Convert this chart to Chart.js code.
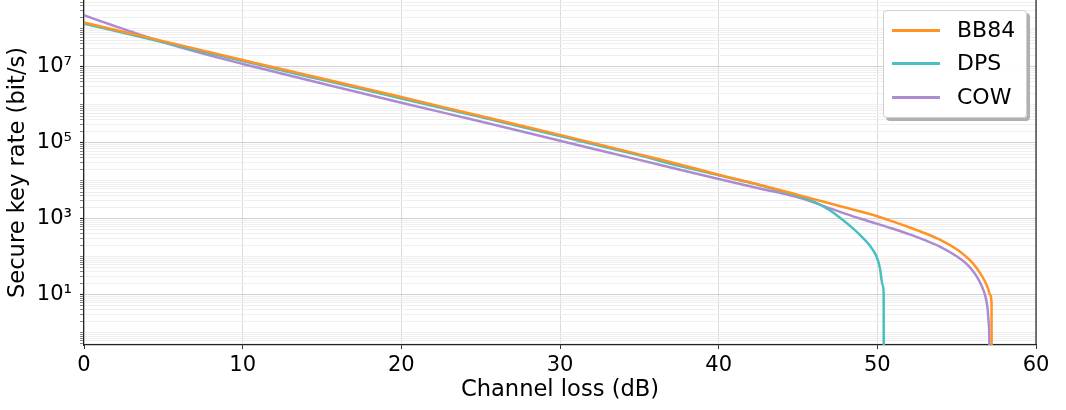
<!DOCTYPE html>
<html>
<head>
<meta charset="utf-8">
<script src="https://cdn.jsdelivr.net/npm/chart.js@4/dist/chart.umd.min.js"></script>
<style>
  html, body { margin: 0; padding: 0; background: #fff; }
  #wrap { position: relative; width: 1066px; height: 410px; }
  #legend {
    position: absolute; left: 883px; top: 10px; width: 142px; height: 106px;
    border: 1px solid #cfcfcf; border-radius: 4px; background: rgba(255,255,255,0.95);
    box-shadow: 3px 3px 0 #b0b0b0; font-family: "DejaVu Sans", sans-serif; font-size: 22px; color: #000;
  }
  .row { position: absolute; left: 0; height: 26px; }
  .swatch { position: absolute; left: 8px; top: 12px; width: 48px; height: 2.5px; }
  .lab { position: absolute; left: 73px; top: 0; line-height: 26px; white-space: nowrap; }
</style>
</head>
<body>
<div id="wrap">
  <canvas id="c" width="1066" height="410"></canvas>
  <div id="legend"></div>
</div>
<script>
// ---- data ----
const lossBB84 = [0, 5, 10, 12.5, 15, 20, 25, 30, 35, 37.5, 40, 42.5, 45, 47.5, 50, 51, 52, 53, 54, 55, 55.5, 56, 56.5, 56.8, 57.0, 57.1, 57.2, 57.21];
const rateBB84 = [1.45e8, 4.7e7, 1.5e7, 8.5e6, 4.9e6, 1.58e6, 5.0e5, 1.6e5, 4.9e4, 2.7e4, 1.42e4, 7.9e3, 4.2e3, 2.2e3, 1.15e3, 830, 590, 410, 270, 155, 107, 68, 35.5, 21.4, 13.5, 9.8, 5.8, 1e-3];

const lossDPS = [0, 5, 10, 12.5, 15, 20, 25, 30, 35, 37.5, 40, 42.5, 45, 46, 47, 47.65, 48.3, 48.9, 49.5, 49.95, 50.17, 50.33, 50.4, 50.41];
const rateDPS = [1.35e8, 4.4e7, 1.41e7, 7.9e6, 4.5e6, 1.45e6, 4.7e5, 1.48e5, 4.6e4, 2.45e4, 1.38e4, 7.8e3, 3.9e3, 2.8e3, 1.66e3, 1.05e3, 630, 372, 200, 100, 48, 17.8, 11, 1e-3];

const lossCOW = [0, 1, 2, 3, 4, 5, 7.5, 10, 12.5, 15, 20, 25, 30, 35, 37.5, 40, 42.5, 45, 47.65, 48.9, 50, 51, 52, 53, 54, 55, 55.5, 56, 56.4, 56.7, 56.85, 56.95, 57.02, 57.06, 57.08];
const rateCOW = [2.25e8, 1.6e8, 1.15e8, 8.3e7, 6.0e7, 4.4e7, 2.2e7, 1.18e7, 6.5e6, 3.6e6, 1.12e6, 3.6e5, 1.12e5, 3.5e4, 1.95e4, 1.1e4, 6.3e3, 3.6e3, 1.5e3, 1.0e3, 725, 537, 389, 269, 178, 102, 71, 43, 24, 12.6, 7.6, 4.2, 1.8, 0.5, 1e-3];

const seriesNames = ["BB84", "DPS", "COW"];
const seriesColors = ["#ff9326", "#4bbfbf", "#ad8bd0"];
const xTickValues = [0, 10, 20, 30, 40, 50, 60];
const yTickLabels = { 1: "10\u00B9", 3: "10\u00B3", 5: "10\u2075", 7: "10\u2077" };

const yMin = Math.pow(10, -0.33);
const yMax = Math.pow(10, 8.755);

function pts(xs, ys) { return xs.map((x, i) => ({ x: x, y: ys[i] })); }
const allData = [pts(lossBB84, rateBB84), pts(lossDPS, rateDPS), pts(lossCOW, rateCOW)];

const TICKFONT = { family: "'DejaVu Sans', sans-serif", size: 21 };
const TITLEFONT = { family: "'DejaVu Sans', sans-serif", size: 22.6 };

function decadeOf(v) { return Math.round(Math.log10(v) * 1000) / 1000; }

const frame = {
  id: 'frame',
  afterDraw(chart) {
    const { ctx, chartArea } = chart;
    ctx.save();
    ctx.strokeStyle = '#222';
    ctx.lineWidth = 1.2;
    ctx.beginPath();
    ctx.moveTo(chartArea.right, chartArea.top);
    ctx.lineTo(chartArea.right, chartArea.bottom);
    ctx.stroke();
    ctx.restore();
  }
};

const chart = new Chart(document.getElementById('c'), {
  type: 'line',
  data: {
    datasets: seriesNames.map((n, i) => ({
      label: n,
      data: allData[i],
      borderColor: seriesColors[i],
      backgroundColor: seriesColors[i],
      borderWidth: 2.5,
      pointRadius: 0,
      cubicInterpolationMode: 'monotone',
      fill: false
    }))
  },
  options: {
    responsive: false,
    animation: false,
    devicePixelRatio: 1,
    layout: { padding: { top: 0, right: 30, bottom: 0, left: 0 } },
    plugins: { legend: { display: false }, tooltip: { enabled: false } },
    scales: {
      x: {
        type: 'linear', min: 0, max: 60,
        afterBuildTicks(scale) { scale.ticks = xTickValues.map(v => ({ value: v })); },
        afterFit(scale) { scale.height = 65; scale.paddingLeft = 0; scale.paddingRight = 0; },
        ticks: { font: TICKFONT, color: '#000', padding: 4, maxRotation: 0, autoSkip: false },
        grid: { color: '#dadada', lineWidth: 1, tickLength: 4, tickColor: '#333', drawOnChartArea: true },
        border: { color: '#222', width: 1.2 },
        title: { display: true, text: 'Channel loss (dB)', font: TITLEFONT, color: '#000', padding: { top: 0, bottom: 6 } }
      },
      y: {
        type: 'logarithmic', min: yMin, max: yMax,
        afterBuildTicks(scale) {
          const t = [];
          for (let e = -1; e <= 8; e++) {
            for (let m = 1; m <= 9; m++) {
              const v = m * Math.pow(10, e);
              if (v >= yMin && v <= yMax) t.push({ value: v });
            }
          }
          scale.ticks = t;
        },
        afterFit(scale) { scale.width = 84; scale.paddingTop = 0; scale.paddingBottom = 0; },
        ticks: {
          font: TICKFONT, color: '#000', padding: 8, autoSkip: false,
          callback(v) {
            const d = decadeOf(v);
            if (Number.isInteger(d) && yTickLabels[d]) return yTickLabels[d];
            return '';
          }
        },
        grid: {
          tickLength: 4,
          color(ctx) {
            const v = ctx.tick && ctx.tick.value;
            if (!v) return '#f0f0f0';
            const d = decadeOf(v);
            if (Number.isInteger(d) && d % 2 !== 0) return '#d0d0d0';
            return '#efefef';
          },
          tickColor(ctx) {
            const v = ctx.tick && ctx.tick.value;
            const d = v ? decadeOf(v) : 0.5;
            if (Number.isInteger(d) && d % 2 !== 0) return '#333';
            return '#666';
          },
          tickWidth(ctx) {
            const v = ctx.tick && ctx.tick.value;
            const d = v ? decadeOf(v) : 0.5;
            return (Number.isInteger(d) && d % 2 !== 0) ? 1.2 : 0.8;
          }
        },
        border: { color: '#222', width: 1.2 },
        title: { display: true, text: 'Secure key rate (bit/s)', font: TITLEFONT, color: '#000', padding: { top: 5, bottom: 0 } }
      }
    }
  },
  plugins: [frame]
});

// HTML legend built from the chart's datasets
const legend = document.getElementById('legend');
const rowTops = [6, 39, 73];
chart.data.datasets.forEach((ds, i) => {
  const row = document.createElement('div');
  row.className = 'row';
  row.style.top = rowTops[i] + 'px';
  row.style.width = '140px';
  const sw = document.createElement('div');
  sw.className = 'swatch';
  sw.style.background = ds.borderColor;
  const lab = document.createElement('div');
  lab.className = 'lab';
  lab.textContent = ds.label;
  row.appendChild(sw); row.appendChild(lab);
  legend.appendChild(row);
});
</script>
</body>
</html>
